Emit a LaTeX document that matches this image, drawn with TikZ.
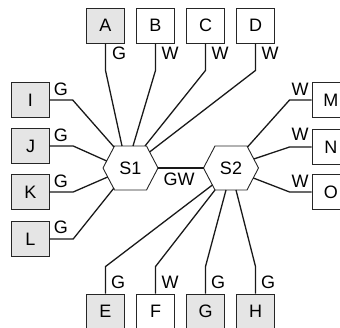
\documentclass[tikz,border=0pt]{standalone}
\usepackage{fontspec}
\setmainfont{Liberation Sans}
\begin{document}
\begin{tikzpicture}[x=1pt,y=-1pt,
  box/.style={draw=black!85, line width=0.9pt, minimum width=37.5pt, minimum height=35pt, inner sep=0pt, font=\fontsize{18}{18}\selectfont},
  graybox/.style={box, fill=black!10},
  whitebox/.style={box, fill=white},
  conn/.style={draw=black!90, line width=1.3pt, line join=round},
  hex/.style={draw=black!85, line width=0.9pt, fill=white, line join=round},
  lab/.style={font=\fontsize{18}{18}\selectfont, inner sep=0pt}
]
\useasboundingbox (0,0) rectangle (340,328);
\clip (0,0) rectangle (340,328);

% hexagons
\path[hex] (103,168) -- (114.5,146) -- (146.5,146) -- (158,168) -- (146.5,190) -- (114.5,190) -- cycle;
\node[lab] (S1) at (130.5,168) {S1};
\path[hex] (203.5,168) -- (215,146) -- (247,146) -- (258.5,168) -- (247,190) -- (215,190) -- cycle;
\node[lab] (S2) at (231,168) {S2};

% attachment points on the hexagons
\coordinate (s1r) at (158,168);
\coordinate (s2l) at (203.5,168);
\coordinate (eA) at (122,146);
\coordinate (eB) at (133,146);
\coordinate (eC) at (145,146);
\coordinate (eD) at (149.6,152);
\coordinate (eI) at (114,147);
\coordinate (eJ) at (106.7,161);
\coordinate (eK) at (107.7,177);
\coordinate (eL) at (114,188);
\coordinate (eM) at (247.5,147);
\coordinate (eN) at (253.8,159);
\coordinate (eO) at (253.3,178);
\coordinate (eE) at (212.4,185);
\coordinate (eF) at (215,190);
\coordinate (eG) at (226,190);
\coordinate (eH) at (236,190);

% boxes
\node[graybox]  (A) at (105.5,25.8) {A};
\node[whitebox] (B) at (155.5,25.8) {B};
\node[whitebox] (C) at (205.5,25.8) {C};
\node[whitebox] (D) at (255.5,25.8) {D};
\node[graybox] (I) at (30.5,100) {I};
\node[graybox] (J) at (30.5,146) {J};
\node[graybox] (K) at (30.5,192) {K};
\node[graybox] (L) at (30.5,239) {L};
\node[whitebox] (M) at (330.75,100) {M};
\node[whitebox] (N) at (330.75,147) {N};
\node[whitebox] (O) at (330.75,192) {O};
\node[graybox]  (E) at (105.5,311.5) {E};
\node[whitebox] (F) at (155.5,311.5) {F};
\node[graybox]  (G) at (205.5,311.5) {G};
\node[graybox]  (H) at (255.5,311.5) {H};

% connectors
\draw[conn] (s1r) -- (s2l);
\draw[conn] (A.south) -- ++(0,26.7) -- (eA);
\draw[conn] (B.south) -- ++(0,26.7) -- (eB);
\draw[conn] (C.south) -- ++(0,26.7) -- (eC);
\draw[conn] (D.south) -- ++(0,26.7) -- (eD);
\draw[conn] (I.east) -- ++(23,0) -- (eI);
\draw[conn] (J.east) -- ++(23.5,0) -- (eJ);
\draw[conn] (K.east) -- ++(23.5,0) -- (eK);
\draw[conn] (L.east) -- ++(23.5,0) -- (eL);
\draw[conn] (M.west) -- ++(-22,0) -- (eM);
\draw[conn] (N.west) -- ++(-22,0) -- (eN);
\draw[conn] (O.west) -- ++(-22,0) -- (eO);
\draw[conn] (E.north) -- ++(0,-27) -- (eE);
\draw[conn] (F.north) -- ++(0,-27) -- (eF);
\draw[conn] (G.north) -- ++(0,-27) -- (eG);
\draw[conn] (H.north) -- ++(0,-27) -- (eH);

% labels
\node[lab] (lGW) at (179,179) {GW};
\node[lab] (lA) at (119,53.5) {G};
\node[lab] (lB) at (170,53.5) {W};
\node[lab] (lC) at (220,53.5) {W};
\node[lab] (lD) at (270,53.5) {W};
\node[lab] (lI) at (61,89) {G};
\node[lab] (lJ) at (61,135) {G};
\node[lab] (lK) at (61,181) {G};
\node[lab] (lL) at (61,227) {G};
\node[lab] (lM) at (300,89) {W};
\node[lab] (lN) at (300,134) {W};
\node[lab] (lO) at (300,181) {W};
\node[lab] (lE) at (118,282) {G};
\node[lab] (lF) at (170,282) {W};
\node[lab] (lG) at (218,282) {G};
\node[lab] (lH) at (268,282) {G};
\end{tikzpicture}
\end{document}
